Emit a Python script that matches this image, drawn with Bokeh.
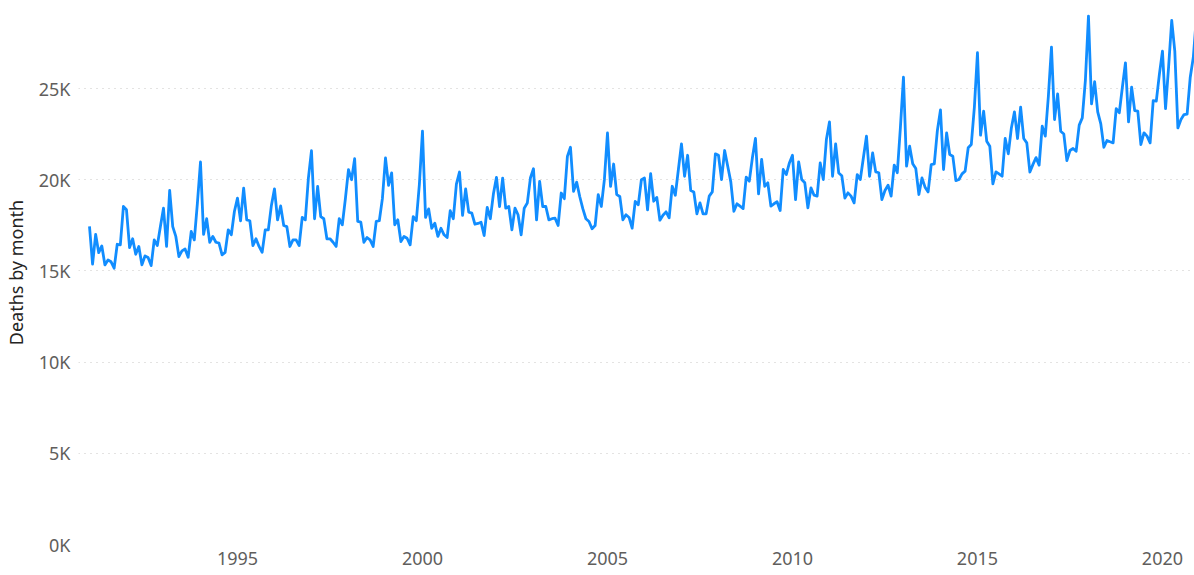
from bokeh.plotting import figure
from bokeh.models import FixedTicker, CustomJSTickFormatter, Range1d, ColumnDataSource
from bokeh.embed import file_html
from bokeh.resources import INLINE

# Monthly deaths, January 1991 .. December 2020
start_year = 1991
monthly_deaths = [
    17440, 15370, 17000, 16000, 16370, 15330, 15600, 15500, 15150, 16460, 16430, 18530,  # 1991
    18350, 16280, 16760, 15910, 16340, 15330, 15820, 15730, 15290, 16700, 16390, 17430,  # 1992
    18440, 16340, 19410, 17430, 16890, 15790, 16100, 16200, 15750, 17160, 16700, 18720,  # 1993
    20970, 17000, 17860, 16570, 16890, 16570, 16520, 15880, 16020, 17250, 16980, 18260,  # 1994
    18990, 17750, 19540, 17800, 17750, 16390, 16760, 16340, 16020, 17250, 17250, 18590,  # 1995
    19500, 17800, 18560, 17490, 17430, 16340, 16700, 16700, 16390, 17930, 17800, 20090,  # 1996
    21590, 17860, 19630, 17980, 17860, 16760, 16760, 16570, 16340, 17860, 17530, 18960,  # 1997
    20550, 20000, 21150, 17710, 17670, 16570, 16830, 16700, 16340, 17710, 17750, 18960,  # 1998
    21190, 19690, 20370, 17530, 17800, 16610, 16890, 16790, 16430, 17980, 17750, 19760,  # 1999
    22660, 17930, 18400, 17340, 17620, 16890, 17340, 16980, 16830, 18300, 17860, 19760,  # 2000
    20420, 18040, 19500, 18220, 18170, 17560, 17600, 17670, 16940, 18480, 17860, 19210,  # 2001
    20130, 18530, 20090, 18440, 18530, 17250, 18440, 18080, 16980, 18440, 18720, 20090,  # 2002
    20600, 17800, 19910, 18530, 18530, 17800, 17860, 17890, 17490, 19270, 18960, 21280,  # 2003
    21780, 19360, 19870, 19080, 18410, 17860, 17710, 17310, 17490, 19180, 18530, 20000,  # 2004
    22560, 19630, 20860, 19180, 19080, 17800, 18080, 17930, 17340, 18810, 18630, 20000,  # 2005
    20090, 18350, 20330, 18820, 19030, 17780, 18050, 18240, 17910, 19640, 19150, 20560,  # 2006
    21960, 20190, 21340, 19410, 19330, 18130, 18730, 18130, 18130, 19100, 19330, 21420,  # 2007
    21340, 20010, 21600, 20740, 19880, 18270, 18680, 18550, 18420, 20140, 19920, 21200,  # 2008
    22260, 19220, 21110, 19640, 19830, 18550, 18680, 18790, 18310, 20560, 20280, 20920,  # 2009
    21340, 18910, 20980, 20010, 19830, 18460, 19550, 19150, 19100, 20920, 20010, 22200,  # 2010
    23170, 20190, 21960, 20370, 20220, 18990, 19280, 19100, 18730, 20280, 20010, 21200,  # 2011
    22390, 20190, 21470, 20430, 20380, 18910, 19410, 19700, 19100, 20800, 20380, 22840,  # 2012
    25620, 20740, 21840, 20870, 20610, 19190, 20100, 19590, 19330, 20830, 20870, 22700,  # 2013
    23830, 20560, 22570, 21380, 21290, 19950, 20010, 20320, 20470, 21750, 21930, 23980,  # 2014
    26960, 22440, 23760, 22110, 21840, 19770, 20430, 20320, 20190, 22260, 21420, 22840,  # 2015
    23720, 22260, 23980, 22260, 22020, 20420, 20840, 21210, 20800, 22930, 22390, 24580,  # 2016
    27270, 23300, 24710, 22660, 22510, 21050, 21600, 21710, 21560, 22990, 23390, 25440,  # 2017
    28970, 24160, 25370, 23720, 23060, 21780, 22150, 22080, 22020, 23900, 23670, 25070,  # 2018
    26410, 23170, 25070, 23790, 23760, 21930, 22570, 22390, 22020, 24340, 24310, 25770,  # 2019
    27050, 23900, 26200, 28730, 27050, 22840, 23300, 23570, 23600, 25600, 26700, 28900,  # 2020
]
year_ticks = [1995, 2000, 2005, 2010, 2015, 2020]
deaths_ticks = [0, 5000, 10000, 15000, 20000, 25000]
y_axis_title = "Deaths by month"

months = [start_year + i / 12 for i in range(len(monthly_deaths))]
source = ColumnDataSource(data=dict(month=months, deaths=monthly_deaths))

FONT = "Noto Sans"
LABEL_COLOR = "#605E5C"

p = figure(
    frame_width=1118, frame_height=544,
    x_range=Range1d(1990.703, 2020.92), y_range=Range1d(0, 29825),
    output_backend="svg", toolbar_location=None,
    min_border_left=76, min_border_right=0, min_border_top=0, min_border_bottom=31,
)
p.outline_line_color = None
p.background_fill_color = "white"
p.border_fill_color = "white"

p.line("month", "deaths", source=source, line_color="#118DFF", line_width=2.8,
       line_join="round")

p.xgrid.grid_line_color = None
p.ygrid.ticker = FixedTicker(ticks=deaths_ticks)
p.ygrid.grid_line_color = "#C8C6C4"
p.ygrid.grid_line_dash = "1 5"
p.ygrid.grid_line_width = 1

p.xaxis.ticker = FixedTicker(ticks=year_ticks)
p.xaxis.formatter = CustomJSTickFormatter(code="return tick.toFixed(0);")
p.yaxis.ticker = FixedTicker(ticks=deaths_ticks)
p.yaxis.formatter = CustomJSTickFormatter(code="return (tick/1000).toFixed(0) + 'K';")

for ax in (p.xaxis, p.yaxis):
    ax.axis_line_color = None
    ax.major_tick_line_color = None
    ax.minor_tick_line_color = None
    ax.major_tick_out = 0
    ax.major_tick_in = 0
    ax.major_label_text_font = FONT
    ax.major_label_text_font_size = "18px"
    ax.major_label_text_color = LABEL_COLOR

p.xaxis.major_label_standoff = 7
p.yaxis.major_label_standoff = 8

p.yaxis.axis_label = y_axis_title
p.yaxis.axis_label_text_font = FONT
p.yaxis.axis_label_text_font_size = "18px"
p.yaxis.axis_label_text_font_style = "normal"
p.yaxis.axis_label_text_color = "#252423"
p.yaxis.axis_label_standoff = 8

open("out.html", "w").write(file_html(p, INLINE))
